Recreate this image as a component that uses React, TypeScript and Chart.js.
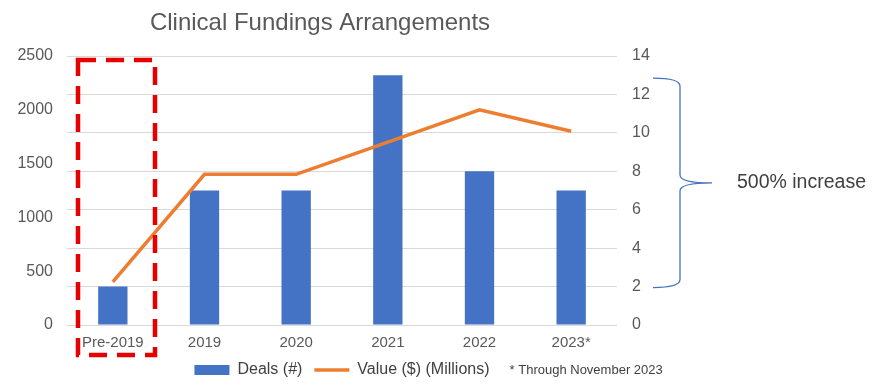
import { useEffect, useRef } from 'react';
import { Chart, registerables } from 'chart.js';

Chart.register(...registerables);

const TITLE = 'Clinical Fundings Arrangements';
const categories = ['Pre-2019', '2019', '2020', '2021', '2022', '2023*'];
const deals = [2, 7, 7, 13, 8, 7];
const values = [400, 1400, 1400, 1700, 2000, 1800];
const FOOTNOTE = '* Through November 2023';
const BRACE_TEXT = '500% increase';

const FONT = '"Liberation Sans", Arial, Helvetica, sans-serif';
const TICK_COLOR = '#595959';
const BLUE = '#4472C4';
const ORANGE = '#ED7D31';

const annotations = {
  id: 'annotations',
  afterDraw(chart: any) {
    const { ctx, chartArea, scales } = chart;
    const x = scales.x;
    const y1 = scales.y1;
    ctx.save();

    // title
    ctx.font = `24px ${FONT}`;
    ctx.fillStyle = '#595959';
    ctx.textAlign = 'center';
    ctx.textBaseline = 'alphabetic';
    ctx.fillText(TITLE, chartArea.left + (chartArea.right - chartArea.left) * 0.46, 30);

    // red dashed box around first category
    const cx = x.getPixelForValue(0);
    const cw = x.getPixelForValue(1) - cx;
    ctx.strokeStyle = '#E60000';
    ctx.lineWidth = 4.5;
    ctx.setLineDash([18, 10]);
    ctx.strokeRect(cx - 0.38 * cw, chartArea.top + 4, 0.84 * cw, chartArea.bottom - chartArea.top + 26);

    // brace
    const top = y1.getPixelForValue(Math.max(...deals)) + 3;
    const bot = y1.getPixelForValue(deals[0]) + 1;
    const mid = (top + bot) / 2;
    const bx0 = chartArea.right + 36;
    const bx1 = bx0 + 27;
    const tip = bx0 + 59;
    ctx.setLineDash([]);
    ctx.strokeStyle = BLUE;
    ctx.lineWidth = 1.3;
    ctx.beginPath();
    ctx.moveTo(bx0, top);
    ctx.quadraticCurveTo(bx1, top, bx1, top + 8);
    ctx.lineTo(bx1, mid - 8);
    ctx.quadraticCurveTo(bx1, mid, tip, mid);
    ctx.quadraticCurveTo(bx1, mid, bx1, mid + 8);
    ctx.lineTo(bx1, bot - 8);
    ctx.quadraticCurveTo(bx1, bot, bx0, bot);
    ctx.stroke();

    ctx.font = `19.5px ${FONT}`;
    ctx.fillStyle = '#404040';
    ctx.textAlign = 'left';
    ctx.textBaseline = 'middle';
    ctx.fillText(BRACE_TEXT, tip + 25, mid);

    // footnote next to legend
    const hb = chart.legend?.legendHitBoxes;
    if (hb && hb.length) {
      const last = hb[hb.length - 1];
      ctx.font = `13px ${FONT}`;
      ctx.fillStyle = '#404040';
      ctx.fillText(FOOTNOTE, last.left + last.width + 20, last.top + last.height / 2);
    }
    ctx.restore();
  },
};

export default function App() {
  const ref = useRef<HTMLCanvasElement>(null);

  useEffect(() => {
    if (!ref.current) return;
    const chart = new Chart(ref.current, {
      data: {
        labels: categories,
        datasets: [
          {
            type: 'bar',
            label: 'Deals (#)',
            data: deals,
            yAxisID: 'y1',
            backgroundColor: BLUE,
            barPercentage: 0.32,
            categoryPercentage: 1,
            order: 1,
          } as any,
          {
            type: 'line',
            label: 'Value ($) (Millions)',
            data: values,
            yAxisID: 'y',
            borderColor: ORANGE,
            backgroundColor: ORANGE,
            borderWidth: 3.5,
            pointRadius: 0,
            pointHoverRadius: 0,
            tension: 0,
            order: 0,
          } as any,
        ],
      },
      options: {
        responsive: false,
        animation: false,
        layout: { padding: { top: 56, left: 0, right: 220, bottom: -3 } },
        scales: {
          x: {
            grid: { display: false, drawTicks: false },
            border: { display: false },
            ticks: { color: TICK_COLOR, font: { size: 15, family: FONT }, padding: 9, maxRotation: 0 },
            afterFit: (s: any) => { s.height = 25; },
          },
          y: {
            position: 'left',
            min: 0,
            max: 2500,
            ticks: {
              stepSize: 500,
              color: TICK_COLOR,
              font: { size: 16, family: FONT },
              padding: 14,
              callback: (v: any) => String(v),
            },
            grid: { display: false, drawTicks: false },
            border: { display: false },
            afterFit: (s: any) => { s.width = 67; },
          },
          y1: {
            position: 'right',
            min: 0,
            max: 14,
            ticks: {
              stepSize: 2,
              color: TICK_COLOR,
              font: { size: 16, family: FONT },
              padding: 15,
              callback: (v: any) => String(v),
            },
            grid: { color: '#D9D9D9', drawTicks: false },
            border: { display: false },
            afterFit: (s: any) => { s.width = 40; },
          },
        },
        plugins: {
          legend: {
            position: 'bottom',
            fullSize: false,
            labels: {
              usePointStyle: true,
              pointStyleWidth: 35,
              boxHeight: 10,
              padding: 12,
              color: '#404040',
              font: { size: 16, family: FONT },
              generateLabels: (c: any) => {
                const items = (Chart.defaults.plugins.legend.labels as any).generateLabels(c);
                return items
                  .sort((a: any, b: any) => a.datasetIndex - b.datasetIndex)
                  .map((it: any) =>
                    it.datasetIndex === 0
                      ? { ...it, pointStyle: 'rect', lineWidth: 0, fillStyle: BLUE }
                      : { ...it, pointStyle: 'line', lineWidth: 3.5, strokeStyle: ORANGE, fillStyle: ORANGE }
                  );
              },
            },
          },
          tooltip: { enabled: false },
        },
      } as any,
      plugins: [annotations],
    });
    return () => chart.destroy();
  }, []);

  return (
    <div style={{ position: 'absolute', left: 0, top: 0, width: 877, height: 385, background: '#fff' }}>
      <canvas ref={ref} width={877} height={385} style={{ display: 'block' }} />
    </div>
  );
}
